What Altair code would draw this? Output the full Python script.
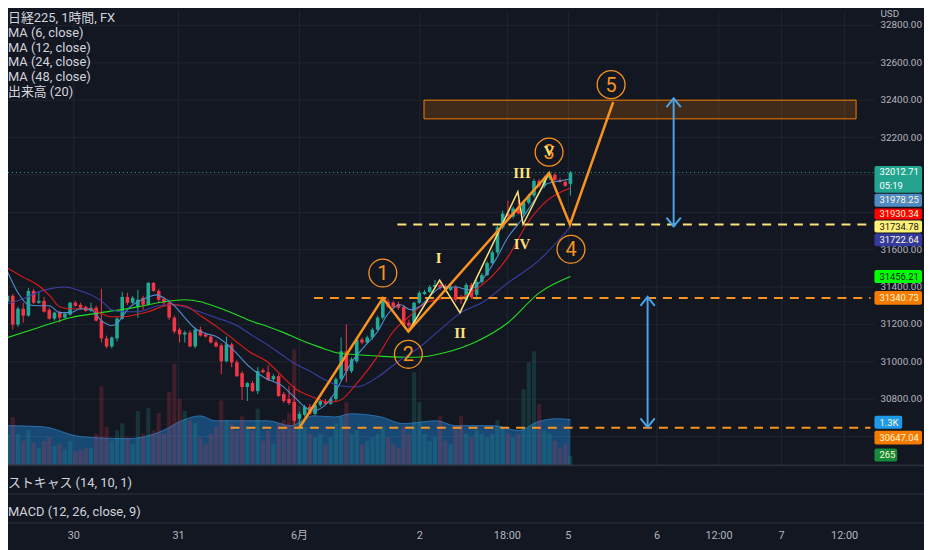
import altair as alt
import pandas as pd

# ---------------- values ----------------
opens = [31321, 31353, 31199, 31284, 31247, 31379, 31316, 31326, 31278, 31231,
         31263, 31236, 31252, 31316, 31305, 31294, 31273, 31289, 31220, 31125,
         31082, 31125, 31231, 31347, 31316, 31294, 31342, 31305, 31422, 31379,
         31337, 31316, 31236, 31172, 31146, 31156, 31082, 31172, 31146, 31135,
         31103, 31088, 31003, 31093, 30997, 30939, 30865, 30886, 30843, 30955,
         30944, 30907, 30923, 30827, 30801, 30785, 30695, 30716, 30759, 30721,
         30769, 30790, 30775, 30801, 30907, 31056, 30950, 31003, 31119, 31103,
         31130, 31172, 31236, 31321, 31316, 31310, 31294, 31209, 31199, 31316,
         31363, 31374, 31400, 31411, 31406, 31385, 31400, 31347, 31332, 31411,
         31358, 31427, 31464, 31528, 31586, 31719, 31793, 31777, 31820, 31793,
         31851, 31889, 31968, 31942, 31984, 32000, 31973, 31963, 31952]
highs = [31395, 31363, 31294, 31316, 31395, 31390, 31374, 31347, 31289, 31268,
         31273, 31263, 31321, 31326, 31316, 31300, 31316, 31300, 31390, 31140,
         31135, 31241, 31374, 31369, 31353, 31385, 31353, 31427, 31427, 31390,
         31347, 31326, 31247, 31183, 31167, 31167, 31183, 31188, 31156, 31146,
         31114, 31098, 31135, 31103, 31008, 30950, 30891, 30897, 30971, 30965,
         30981, 30934, 30934, 30838, 30870, 30870, 30732, 30769, 30775, 30780,
         30801, 30801, 30812, 30918, 31130, 31199, 31024, 31130, 31130, 31140,
         31183, 31247, 31340.73, 31337, 31326, 31321, 31305, 31225, 31321, 31379,
         31385, 31411, 31437, 31422, 31416, 31411, 31411, 31358, 31422, 31422,
         31437, 31475, 31538, 31597, 31729, 31809, 31862, 31830, 31867, 31862,
         31899, 31979, 31979, 31995, 32021, 32011, 31984, 31973, 32021]
lows = [31310, 31172, 31188, 31209, 31241, 31310, 31310, 31263, 31225, 31220,
        31209, 31231, 31247, 31294, 31278, 31268, 31268, 31215, 31103, 31072,
        31072, 31109, 31225, 31305, 31310, 31236, 31278, 31300, 31374, 31316,
        31300, 31225, 31151, 31103, 31103, 31077, 31072, 31135, 31130, 31098,
        31077, 30934, 30997, 30971, 30918, 30796, 30790, 30838, 30827, 30939,
        30897, 30897, 30812, 30780, 30769, 30663, 30647.04, 30706, 30716, 30711,
        30759, 30769, 30769, 30790, 30897, 30891, 30939, 30992, 31093, 31098,
        31119, 31167, 31225, 31289, 31284, 31278, 31188, 31162, 31188, 31310,
        31358, 31369, 31395, 31385, 31374, 31379, 31321, 31310, 31326, 31337,
        31332, 31416, 31459, 31522, 31575, 31708, 31766, 31766, 31788, 31782,
        31841, 31878, 31931, 31931, 31973, 31963, 31958, 31936, 31889]
closes = [31353, 31199, 31284, 31247, 31379, 31316, 31326, 31268, 31231, 31263,
          31236, 31257, 31316, 31300, 31289, 31273, 31289, 31220, 31125, 31082,
          31130, 31231, 31347, 31316, 31342, 31332, 31305, 31422, 31379, 31332,
          31316, 31236, 31162, 31146, 31156, 31082, 31172, 31140, 31135, 31103,
          31082, 31003, 31093, 30997, 30923, 30865, 30886, 30843, 30950, 30944,
          30902, 30923, 30817, 30790, 30780, 30684, 30721, 30759, 30721, 30769,
          30790, 30775, 30801, 30907, 31056, 30950, 31013, 31119, 31103, 31130,
          31172, 31236, 31332, 31294, 31294, 31289, 31199, 31194, 31316, 31369,
          31374, 31400, 31411, 31395, 31390, 31400, 31332, 31332, 31411, 31347,
          31427, 31464, 31528, 31586, 31719, 31793, 31777, 31820, 31793, 31851,
          31889, 31968, 31942, 31984, 32005, 31973, 31963, 31942, 32012.71]
volumes = [900, 1380, 900, 700, 1000, 650, 500, 700, 800, 550,
           600, 450, 700, 400, 450, 500, 500, 900, 2250, 1100,
           700, 1000, 1200, 800, 600, 1550, 900, 1630, 1000, 1500,
           900, 2100, 2900, 1900, 1550, 1300, 1200, 800, 600, 900,
           1100, 1850, 1300, 1200, 1000, 1400, 1100, 1000, 1620, 700,
           1000, 600, 1200, 1300, 1500, 3300, 1700, 1100, 900, 800,
           900, 600, 800, 1200, 1400, 1800, 900, 1000, 600, 700,
           800, 900, 1100, 800, 600, 500, 1100, 900, 2650, 1800,
           900, 700, 800, 1400, 700, 600, 1100, 1400, 900, 800,
           1000, 900, 800, 900, 1300, 1100, 900, 800, 900, 2170,
           2940, 3250, 1750, 1000, 900, 700, 500, 600, 265]

ma6_t = [0, 2, 4, 6, 8, 10, 12, 14, 16, 18, 20, 21, 22, 23.5, 25, 27, 28.5, 30, 32, 34,
         36, 38, 40, 43, 46.5, 49.5, 52.5, 55, 57, 58.5, 60.5, 62, 63.5, 66, 68.5, 71,
         73, 75.4, 77.3, 79, 81.7, 83.4, 86, 88.5, 91, 93.6, 96, 98.5, 101, 103.5, 106, 108]
ma6_v = [31480, 31369, 31305, 31300, 31300, 31263, 31263, 31284, 31278, 31220,
         31194, 31204, 31241, 31294, 31321, 31347, 31358, 31342, 31300, 31236,
         31178, 31151, 31135, 31072, 30971, 30912, 30875, 30812, 30759, 30737,
         30759, 30801, 30870, 30997, 31082, 31162, 31257, 31305, 31278, 31294,
         31369, 31400, 31400, 31385, 31437, 31544, 31666, 31756, 31862, 31952,
         31968, 31978.25]
ma12_t = [0, 3, 5.8, 8.3, 10, 12, 15.8, 17.7, 19.6, 22, 24.6, 27, 29.6, 31.5, 34, 37,
          40.4, 43.4, 46.6, 49.7, 52.5, 55.3, 58.5, 61.6, 63.5, 67.2, 71, 74, 77, 80.3,
          83.4, 87.2, 89.7, 92.8, 96, 99.7, 103.5, 108]
ma12_v = [31501, 31453, 31411, 31347, 31294, 31284, 31284, 31263, 31241, 31241,
          31252, 31268, 31294, 31305, 31300, 31247, 31183, 31119, 31050, 31003,
          30928, 30854, 30812, 30785, 30790, 30891, 31029, 31162, 31241, 31316,
          31337, 31347, 31385, 31453, 31560, 31740, 31862, 31930.34]
ma24_t = [0, 3, 6, 8, 11, 14, 16, 18, 20, 22, 25, 29, 32, 35, 40, 44, 47, 50, 52.5, 55,
          58, 61, 64, 67, 71, 75, 79, 83, 87, 91, 96, 102, 108]
ma24_v = [31310, 31337, 31374, 31390, 31400, 31379, 31358, 31326, 31278, 31268,
          31268, 31300, 31305, 31284, 31236, 31194, 31140, 31088, 31040, 30992,
          30950, 30902, 30870, 30865, 30918, 31003, 31077, 31172, 31263, 31316,
          31422, 31544, 31722.64]
ma48_t = [0, 6, 12, 18, 25, 30, 34, 37, 40, 43, 47, 50, 53, 56, 60, 63, 66, 72, 78, 84,
          90, 96, 102, 108]
ma48_v = [31130, 31183, 31236, 31263, 31294, 31321, 31332, 31321, 31294, 31263,
          31215, 31188, 31156, 31119, 31077, 31050, 31040, 31029, 31024, 31050,
          31109, 31209, 31369, 31456.21]
volma_t = [0, 6.7, 14, 23.2, 29.8, 33.4, 37, 39.8, 49.9, 54.3, 58.6, 62.9, 65.8, 71.6,
           75.9, 82.3, 85.9, 93.2, 98.1, 101.7, 105.5, 108]
volma_v = [1130, 1100, 820, 760, 990, 1270, 1410, 1270, 1270, 1130, 1410, 1380, 1470,
           1380, 1190, 1270, 1130, 1130, 990, 1240, 1330, 1300]

wave_t = [56.0, 72.0, 76.9, 103.9, 107.9, 116.2]
wave_p = [30647.04, 31340.73, 31162, 32010, 31734.78, 32390]
sub_t = [76.9, 82.9, 86.8, 97.9, 98.9, 103.9]
sub_p = [31162, 31437, 31263, 31910, 31734.78, 32010]
wave_lbl = ["1", "2", "3", "4", "5"]
wave_lbl_t = [72.0, 76.9, 103.9, 108.1, 115.8]
wave_lbl_p = [31475, 31040, 32122, 31602, 32483]
sub_lbl = ["I", "II", "III", "IV", "V"]
sub_lbl_t = [82.7, 86.8, 98.7, 98.7, 103.9]
sub_lbl_p = [31554, 31156, 32011, 31629, 32127]

zone_t = [79.9, 162.8]
zone_p = [32300, 32400]
level_yellow_t = [74.8]
level_yellow_p = [31734.78]
level_orange_t = [58.8, 42.8]
level_orange_p = [31340.73, 30647.04]
arrow_t = [127.8, 122.8]
arrow_top = [32410, 31347]
arrow_bot = [31724, 30650]

time_t = [12.7, 32.8, 56.0, 79.1, 95.9, 107.6, 124.6, 136.5, 148.5, 160.6]
time_lbl = ["30", "31", "6月", "2", "18:00", "5", "6", "12:00", "7", "12:00"]
price_ticks = [30800, 31000, 31200, 31400, 31600, 32200, 32400, 32600, 32800]
grid_prices = [30600, 30800, 31000, 31200, 31400, 31600, 31800, 32000, 32200, 32400, 32600, 32800]

legend_lines = ["日経225, 1時間, FX", "MA (6, close)", "MA (12, close)", "MA (24, close)",
                "MA (48, close)", "出来高 (20)"]
pane_titles = ["ストキャス (14, 10, 1)", "MACD (12, 26, close, 9)"]
countdown = "05:19"
currency = "USD"
volma_label = "1.3K"

# ---------------- layout / style ----------------
W, H = 924, 542
PX_T = 5.315
X_MIN = (8 - 2.5) / PX_T
X_MAX = X_MIN + W / PX_T
PX_P = 5.305
P_TOP = 32000 + (174 - 8) * PX_P
P_BOT = P_TOP - H * PX_P
V_PER_PX = 1000 / 35.4
V_TOP = 459 * V_PER_PX
V_BOT = -(H - 459) * V_PER_PX

BG = "#131722"
GRID = "#20242f"
AXT = "#b2b5be"
TXT = "#d1d4dc"
UP = "#22ab94"
DOWN = "#f23645"
ORANGE = "#f7931e"
ORANGE_TAG = "#f57c00"
YEL = "#ffe27a"
BLUE = "#4aa3e8"
FONT = "Roboto, Noto Sans CJK JP, sans-serif"

xs = alt.Scale(domain=[X_MIN, X_MAX], nice=False, zero=False)
ys = alt.Scale(domain=[P_BOT, P_TOP], nice=False, zero=False)
vs = alt.Scale(domain=[V_BOT, V_TOP], nice=False, zero=False)


def X(f="t"):
    return alt.X(f"{f}:Q", scale=xs, axis=None)


def Y(f="p"):
    return alt.Y(f"{f}:Q", scale=ys, axis=None)


one = pd.DataFrame({"k": [0]})


def dtext(txt, x, y, size=13, color=TXT, align="left", font=FONT, weight="normal"):
    return alt.Chart(one).mark_text(text=txt, align=align, baseline="middle", fontSize=size,
                                    color=color, font=font, fontWeight=weight).encode(
        x=alt.value(x), y=alt.value(y))


def drect(x1, x2, y1, y2, fill):
    return alt.Chart(one).mark_rect(color=fill, cornerRadius=2).encode(
        x=alt.value(x1), x2=alt.value(x2), y=alt.value(y1), y2=alt.value(y2))


def drule(x1, x2, y1, y2, color, w):
    return alt.Chart(one).mark_rule(color=color, strokeWidth=w).encode(
        x=alt.value(x1), x2=alt.value(x2), y=alt.value(y1), y2=alt.value(y2))


layers = []

# grid
layers.append(alt.Chart(pd.DataFrame({"p": grid_prices})).mark_rule(color=GRID, strokeWidth=1).encode(
    y=Y("p"), x=alt.value(0), x2=alt.value(874)))
tdf = pd.DataFrame({"t": time_t, "lbl": time_lbl})
layers.append(alt.Chart(tdf).mark_rule(color=GRID, strokeWidth=1).encode(
    x=X("t"), y=alt.value(0), y2=alt.value(459)))

# volume
vmdf = pd.DataFrame({"t": volma_t, "v": volma_v})
layers.append(alt.Chart(vmdf).mark_area(color="#2196f3", opacity=0.4, interpolate="monotone").encode(
    x=X(), y=alt.Y("v:Q", scale=vs, axis=None), y2=alt.datum(0)))
layers.append(alt.Chart(vmdf).mark_line(color="#2a6fae", strokeWidth=1, interpolate="monotone").encode(
    x=X(), y=alt.Y("v:Q", scale=vs, axis=None)))

cd = pd.DataFrame({"t": list(range(len(closes))), "o": opens, "h": highs, "l": lows,
                   "c": closes, "v": volumes})
base = alt.Chart(cd).transform_calculate(dir="datum.c >= datum.o ? 'up' : 'down'")
dcol = alt.Color("dir:N", scale=alt.Scale(domain=["up", "down"], range=[UP, DOWN]), legend=None)
layers.append(base.mark_bar(size=4.2, opacity=0.2).encode(
    x=X(), y=alt.Y("v:Q", scale=vs, axis=None), y2=alt.datum(0), color=dcol))

# candles
layers.append(base.mark_rule(strokeWidth=1).encode(x=X(), y=Y("l"), y2=alt.Y2("h"), color=dcol))
layers.append(base.mark_bar(size=3.6).encode(x=X(), y=Y("o"), y2=alt.Y2("c"), color=dcol))

# moving averages
for tt, vv, col in [(ma48_t, ma48_v, "#22dd22"), (ma24_t, ma24_v, "#3a40a8"),
                    (ma12_t, ma12_v, "#e01b1b"), (ma6_t, ma6_v, "#4f8fcf")]:
    layers.append(alt.Chart(pd.DataFrame({"t": tt, "p": vv})).mark_line(
        color=col, strokeWidth=1.1, interpolate="monotone").encode(x=X(), y=Y()))

# last price line
layers.append(alt.Chart(pd.DataFrame({"p": [closes[-1]]})).mark_rule(
    color="#22a48f", strokeDash=[1, 3], strokeWidth=1).encode(y=Y(), x=alt.value(0), x2=alt.value(874)))

# target zone
layers.append(alt.Chart(pd.DataFrame({"t1": [zone_t[0]], "t2": [zone_t[1]], "p1": [zone_p[0]], "p2": [zone_p[1]]}))
              .mark_rect(fill=ORANGE_TAG, fillOpacity=0.2, stroke=ORANGE_TAG, strokeWidth=1)
              .encode(x=X("t1"), x2=alt.X2("t2"), y=Y("p1"), y2=alt.Y2("p2")))

# dashed levels
layers.append(alt.Chart(pd.DataFrame({"t": level_yellow_t, "p": level_yellow_p})).mark_rule(
    color=YEL, strokeWidth=2, strokeDash=[9, 7]).encode(x=X(), x2=alt.value(870), y=Y()))
layers.append(alt.Chart(pd.DataFrame({"t": level_orange_t, "p": level_orange_p})).mark_rule(
    color=ORANGE, strokeWidth=2, strokeDash=[9, 7]).encode(x=X(), x2=alt.value(870), y=Y()))

# arrows
adf = pd.DataFrame({"t": arrow_t, "top": arrow_top, "bot": arrow_bot})
layers.append(alt.Chart(adf).mark_rule(color=BLUE, strokeWidth=2).encode(x=X(), y=Y("top"), y2=alt.Y2("bot")))
layers.append(alt.Chart(adf).mark_point(shape="M-0.8,1L0,0L0.8,1", size=324, filled=False, color=BLUE,
                                        strokeWidth=2, opacity=1).encode(x=X(), y=Y("top")))
layers.append(alt.Chart(adf).mark_point(shape="M-0.8,-1L0,0L0.8,-1", size=324, filled=False, color=BLUE,
                                        strokeWidth=2, opacity=1).encode(x=X(), y=Y("bot")))

# waves
layers.append(alt.Chart(pd.DataFrame({"t": sub_t, "p": sub_p, "i": list(range(len(sub_t)))})).mark_line(
    color=YEL, strokeWidth=1.5).encode(x=X(), y=Y(), order="i:Q"))
layers.append(alt.Chart(pd.DataFrame({"t": wave_t, "p": wave_p, "i": list(range(len(wave_t)))})).mark_line(
    color=ORANGE, strokeWidth=2.5).encode(x=X(), y=Y(), order="i:Q"))

wl = pd.DataFrame({"t": wave_lbl_t, "p": wave_lbl_p, "lbl": wave_lbl})
layers.append(alt.Chart(wl).mark_point(shape="circle", size=790, filled=False, color=ORANGE,
                                       strokeWidth=1.3, opacity=1).encode(x=X(), y=Y()))
layers.append(alt.Chart(wl).mark_text(fontSize=20, color=ORANGE, font=FONT, baseline="middle",
                                      align="center", dy=1).encode(x=X(), y=Y(), text="lbl:N"))
sl = pd.DataFrame({"t": sub_lbl_t, "p": sub_lbl_p, "lbl": sub_lbl})
layers.append(alt.Chart(sl).mark_text(fontSize=15, fontWeight="bold", color=YEL,
                                      font="Liberation Serif, DejaVu Serif, serif",
                                      baseline="middle", align="center").encode(x=X(), y=Y(), text="lbl:N"))

# price axis labels
layers.append(alt.Chart(pd.DataFrame({"p": price_ticks})).transform_calculate(
    lbl="format(datum.p, '.2f')").mark_text(align="left", baseline="middle", fontSize=10, color=AXT,
                                             font=FONT).encode(x=alt.value(880), y=Y(), text="lbl:N"))
layers.append(dtext(currency, 880, 4, size=10, color=AXT))

# price tags (box top, box bottom, box right, colour, text, text centre, text colour)
tags = [
    (157, 184, 922, "#22a48f", None, None, "#ffffff"),
    (185, 198, 922, "#4f8bc2", f"{ma6_v[-1]:.2f}", 191.5, "#fff6d5"),
    (200, 211, 922, "#ff0000", f"{ma12_v[-1]:.2f}", 205, "#fff6d5"),
    (212, 224, 922, "#fff176", f"{level_yellow_p[0]:.2f}", 219, "#131722"),
    (225, 238, 922, "#34399c", f"{ma24_v[-1]:.2f}", 232, "#fff6d5"),
    (262, 275, 922, "#00ff00", f"{ma48_v[-1]:.2f}", 269, "#131722"),
    (283, 297, 922, ORANGE_TAG, f"{level_orange_p[0]:.2f}", 290.5, "#fff6d5"),
    (409, 422, 902, "#1e9be8", volma_label, 416, "#fff6d5"),
    (424, 438, 922, ORANGE_TAG, f"{level_orange_p[1]:.2f}", 431.5, "#fff6d5"),
    (442, 455, 897, "#17893a", f"{volumes[-1]}", 449, "#fff6d5"),
]
for y1, y2, x2, fill, txt, ty, tc in tags:
    layers.append(drect(874, x2, y1, y2, fill))
    if txt is not None:
        layers.append(dtext(txt, 879, ty, size=9.5, color=tc))
layers.append(dtext(f"{closes[-1]:.2f}", 879, 163, size=9.5, color="#ffffff"))
layers.append(dtext(countdown, 879, 177.5, size=9.5, color="#ffffff"))

# legend & panes
for i, line in enumerate(legend_lines):
    layers.append(dtext(line, 0, 8 + i * 14.8, size=13))
layers.append(drule(0, W, 459, 459, "#2a2e39", 2))
layers.append(drule(0, W, 488, 488, "#2a2e39", 1.5))
layers.append(drule(0, W, 517, 517, "#2a2e39", 1.5))
layers.append(dtext(pane_titles[0], 0, 477, size=13))
layers.append(dtext(pane_titles[1], 0, 506, size=13))

# time axis labels
layers.append(alt.Chart(tdf).mark_text(fontSize=11, color=AXT, font=FONT, baseline="middle",
                                       align="center").encode(x=X("t"), y=alt.value(530), text="lbl:N"))

chart = alt.layer(*layers).resolve_scale(y="independent").properties(
    width=W, height=H, padding=0, autosize="none", background=BG
).configure_view(strokeWidth=0)

chart.save("out.html", embed_options={"renderer": "svg", "actions": False})
